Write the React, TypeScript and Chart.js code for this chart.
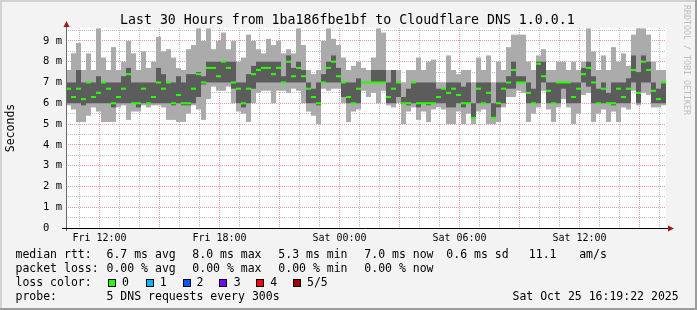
import React, { useEffect, useRef } from "react";
import { Chart, registerables } from "chart.js";

Chart.register(...registerables);

// ---- time axis (hours since Fri 10:19:22, 30 hour window, 15 minute bins) ----
const STEP_HOURS = 0.25;
const SPAN_HOURS = 30;
const FIRST_GRID_OFFSET = 40 / 60 + 38 / 3600; // Fri 11:00
const FIRST_GRID_CLOCK = 11;
const GRID_COUNT = 30;
const xLabelClock = [12, 18, 24, 30, 36];
const xLabelTexts = ["Fri 12:00", "Fri 18:00", "Sat 00:00", "Sat 06:00", "Sat 12:00"];

// ---- round-trip times (ms): smoke envelope + median ----
const rttMax = [
  7.6, 8.4, 8.9, 7.6, 8.4, 7.6, 9.6, 8.2, 7.6, 8.7, 7.6, 8.0, 9.0, 8.4, 7.6, 8.5, 7.7, 8.0, 9.2, 8.5,
  8.6, 8.2, 7.7, 7.6, 8.6, 8.8, 9.6, 9.0, 9.6, 8.6, 9.0, 9.4, 8.6, 9.0, 8.0, 8.2, 9.3, 9.0, 8.6, 8.4,
  9.1, 8.8, 9.0, 8.4, 8.6, 8.4, 9.6, 8.8, 7.6, 7.4, 7.6, 9.0, 9.6, 9.1, 8.8, 8.2, 7.6, 7.8, 8.0, 7.7,
  7.6, 8.2, 9.6, 9.4, 7.6, 7.6, 7.6, 7.0, 7.6, 7.6, 8.2, 7.6, 8.0, 8.1, 7.0, 7.0, 8.3, 7.6, 7.4, 7.6,
  7.6, 7.0, 8.2, 7.6, 8.3, 7.0, 8.0, 7.6, 8.7, 9.3, 9.3, 9.3, 8.0, 7.6, 8.3, 8.6, 7.6, 7.6, 8.0, 8.0,
  7.6, 8.0, 7.6, 8.0, 9.6, 8.5, 7.6, 8.3, 7.6, 8.7, 8.0, 8.4, 7.8, 9.3, 9.6, 9.6, 9.3, 8.0, 7.6, 7.6,
];
const rttQ3 = [
  7.0, 7.0, 7.6, 7.0, 7.0, 7.0, 7.3, 7.0, 7.0, 7.0, 7.0, 7.3, 7.7, 7.0, 7.0, 7.0, 7.0, 7.0, 7.7, 7.4,
  7.0, 7.0, 7.3, 7.0, 7.4, 7.4, 7.5, 7.3, 8.0, 8.0, 8.0, 8.0, 8.0, 8.0, 7.0, 7.0, 7.4, 7.8, 8.0, 8.0,
  8.0, 8.0, 8.0, 7.3, 8.3, 7.7, 8.0, 7.6, 7.0, 6.7, 7.0, 7.4, 8.0, 8.3, 7.7, 7.0, 7.0, 7.0, 7.2, 7.0,
  7.0, 7.6, 7.6, 7.6, 7.0, 7.6, 7.0, 6.3, 6.7, 7.0, 7.0, 7.0, 7.0, 7.0, 6.7, 6.7, 7.0, 7.0, 7.0, 6.8,
  7.0, 6.0, 7.0, 7.0, 7.0, 6.0, 7.0, 7.0, 7.3, 8.0, 7.3, 7.3, 7.0, 6.7, 8.0, 8.0, 7.0, 7.0, 7.0, 7.0,
  7.0, 7.0, 7.0, 7.7, 8.0, 7.3, 6.7, 7.0, 6.5, 7.0, 7.0, 7.0, 7.2, 8.3, 7.5, 8.3, 8.0, 7.0, 6.7, 7.0,
];
const rttMedian = [
  6.7, 6.3, 6.7, 6.2, 7.0, 6.3, 6.5, 7.0, 6.7, 6.0, 6.3, 6.7, 7.4, 6.0, 6.0, 6.7, 6.0, 6.3, 7.0, 6.7,
  7.0, 6.0, 6.4, 6.0, 6.0, 6.7, 7.4, 7.0, 7.7, 7.7, 7.3, 8.0, 7.7, 7.0, 6.7, 6.0, 6.7, 7.4, 7.6, 7.7,
  7.7, 7.4, 7.7, 7.0, 8.0, 7.3, 7.7, 7.3, 6.7, 6.3, 6.0, 7.0, 7.7, 8.0, 7.3, 7.0, 6.3, 6.0, 6.7, 7.0,
  7.0, 7.0, 7.0, 7.0, 6.3, 6.7, 7.0, 6.0, 6.0, 7.0, 6.0, 6.0, 6.0, 6.0, 6.3, 6.7, 6.5, 6.7, 6.4, 6.0,
  6.0, 5.3, 6.7, 6.0, 6.5, 5.3, 6.0, 6.7, 7.0, 7.6, 7.0, 7.0, 6.5, 6.0, 7.9, 7.3, 6.6, 6.0, 7.0, 7.0,
  7.0, 6.3, 6.7, 7.4, 7.7, 7.0, 6.0, 6.7, 6.0, 6.0, 6.7, 6.3, 6.7, 7.6, 6.5, 8.0, 7.6, 6.6, 6.2, 7.0,
];
const rttQ1 = [
  6.0, 6.0, 6.0, 5.9, 6.0, 6.0, 6.0, 6.0, 6.0, 5.8, 6.0, 6.0, 6.0, 6.0, 5.8, 6.0, 6.0, 6.0, 6.0, 6.0,
  6.0, 5.9, 6.0, 5.9, 5.9, 6.0, 6.3, 6.9, 7.0, 7.0, 7.0, 7.0, 7.0, 6.7, 6.0, 5.8, 6.0, 6.7, 7.0, 7.0,
  7.0, 7.0, 7.0, 7.0, 7.0, 7.0, 7.0, 7.0, 6.0, 6.0, 5.9, 7.0, 7.0, 7.0, 7.0, 6.3, 6.0, 6.0, 6.0, 7.0,
  7.0, 7.0, 7.0, 7.0, 6.0, 6.0, 6.3, 6.0, 5.9, 6.0, 5.8, 6.0, 5.9, 6.0, 6.0, 6.0, 5.8, 5.8, 6.0, 5.8,
  6.0, 5.3, 6.0, 6.0, 6.0, 5.3, 5.8, 6.0, 6.7, 6.7, 7.0, 7.0, 6.0, 6.0, 6.0, 7.0, 6.0, 6.0, 6.0, 6.7,
  6.0, 6.0, 6.0, 7.0, 6.8, 6.0, 6.0, 6.0, 6.0, 5.9, 6.0, 6.0, 6.0, 7.0, 6.0, 7.0, 7.0, 6.0, 6.0, 6.0,
];
const rttMin = [
  5.9, 5.7, 5.1, 5.1, 5.4, 5.8, 5.6, 5.1, 5.1, 5.1, 5.8, 5.9, 5.2, 5.6, 5.6, 5.9, 5.8, 5.9, 5.9, 5.8,
  5.2, 5.2, 5.1, 5.1, 5.5, 5.9, 5.7, 5.2, 6.2, 6.8, 6.6, 6.6, 6.8, 6.0, 5.6, 5.5, 5.1, 6.0, 6.5, 6.6,
  6.6, 6.0, 6.6, 6.6, 6.5, 6.7, 6.6, 6.0, 5.6, 5.4, 5.0, 6.7, 6.6, 6.7, 6.7, 6.0, 5.1, 5.6, 5.7, 6.6,
  6.3, 6.5, 6.0, 6.6, 5.9, 5.8, 6.0, 5.0, 5.6, 5.8, 5.2, 5.6, 5.1, 5.7, 5.8, 5.7, 5.0, 5.0, 5.6, 5.0,
  5.5, 5.0, 5.6, 5.7, 5.0, 5.0, 5.1, 5.8, 6.3, 6.3, 6.6, 6.5, 5.1, 5.5, 5.8, 6.6, 5.7, 5.1, 5.8, 6.2,
  5.8, 5.0, 5.5, 6.4, 6.5, 5.1, 5.5, 5.7, 5.1, 5.6, 5.1, 5.8, 5.7, 6.6, 5.9, 6.5, 6.4, 5.8, 5.8, 5.9,
];

// ---- value axis ----
const Y_MAX = 9.62;
const yTickValues = [0, 0.5, 1, 1.5, 2, 2.5, 3, 3.5, 4, 4.5, 5, 5.5, 6, 6.5, 7, 7.5, 8, 8.5, 9, 9.5];
const MEDIAN_HALF = 0.05;

// ---- texts ----
const TITLE = "Last 30 Hours from 1ba186fbe1bf to Cloudflare DNS 1.0.0.1";
const Y_TITLE = "Seconds";
const WATERMARK = "RRDTOOL / TOBI OETIKER";
const rttRow = ["median rtt:", "6.7 ms avg", "8.0 ms max", "5.3 ms min", "7.0 ms now", "0.6 ms sd", "11.1", "am/s"];
const lossRow = ["packet loss:", "0.00 % avg", "0.00 % max", "0.00 % min", "0.00 % now"];
const lossColorLabel = "loss color:";
const lossLabels = ["0", "1", "2", "3", "4", "5/5"];
const lossColors = ["#26ff00", "#00b8ff", "#0059ff", "#7e00ff", "#ff0000", "#a00000"];
const probeRow = ["probe:", "5 DNS requests every 300s"];
const DATE_TEXT = "Sat Oct 25 16:19:22 2025";

// ---- layout (pixels) ----
const W = 697;
const H = 310;
const MONO = '"DejaVu Sans Mono", monospace';
const colX = [15.5, 106.5, 192.3, 278.3, 364.3, 446.3, 528.8, 579.2];
const rowTop = [247, 261, 275, 289];
const lossBoxX = [108, 146, 183, 219, 256, 293];
const lossTextX = [122, 159.8, 196.5, 233.7, 270.2, 307];

const MAJOR = "rgba(225,110,110,0.7)";
const MINOR = "rgba(150,150,150,0.6)";

const binX = (i: number) => (i + 0.5) * STEP_HOURS;

const framePlugin = {
  id: "rrdFrame",
  beforeDraw(chart: any) {
    const { ctx, width, height, chartArea: a } = chart;
    ctx.save();
    ctx.fillStyle = "#f3f3f3";
    ctx.fillRect(0, 0, width, height);
    ctx.fillStyle = "#d2d2d2";
    ctx.fillRect(0, 0, width, 2);
    ctx.fillRect(0, 0, 2, height);
    ctx.fillStyle = "#9c9c9c";
    ctx.fillRect(0, height - 2, width, 2);
    ctx.fillRect(width - 2, 0, 2, height);
    ctx.fillStyle = "#ffffff";
    ctx.fillRect(a.left, a.top, a.right - a.left, a.bottom - a.top);
    ctx.restore();
  },
  afterDraw(chart: any) {
    const { ctx, chartArea: a } = chart;
    ctx.save();
    ctx.lineWidth = 1;
    // y axis
    ctx.strokeStyle = "#6a6a6a";
    ctx.beginPath();
    ctx.moveTo(a.left + 0.5, a.bottom + 3);
    ctx.lineTo(a.left + 0.5, a.top - 4);
    ctx.stroke();
    // x axis
    ctx.strokeStyle = "#000000";
    ctx.beginPath();
    ctx.moveTo(a.left - 4, a.bottom + 0.5);
    ctx.lineTo(a.right + 3, a.bottom + 0.5);
    ctx.stroke();
    // arrows
    ctx.fillStyle = "#a01818";
    ctx.beginPath();
    ctx.moveTo(a.left + 0.5, a.top - 7);
    ctx.lineTo(a.left + 3.5, a.top - 1);
    ctx.lineTo(a.left - 2.5, a.top - 1);
    ctx.closePath();
    ctx.fill();
    ctx.beginPath();
    ctx.moveTo(a.right + 8, a.bottom + 0.5);
    ctx.lineTo(a.right + 2, a.bottom + 3.5);
    ctx.lineTo(a.right + 2, a.bottom - 2.5);
    ctx.closePath();
    ctx.fill();
    ctx.restore();
  },
};

export default function App() {
  const ref = useRef<HTMLCanvasElement | null>(null);

  useEffect(() => {
    if (!ref.current) return;
    const common = {
      grouped: false,
      barPercentage: 1,
      categoryPercentage: 1,
      borderWidth: 0,
      inflateAmount: 0,
    };
    const chart = new Chart(ref.current, {
      type: "bar",
      data: {
        datasets: [
          {
            ...common,
            label: "median rtt",
            order: 0,
            backgroundColor: lossColors[0],
            data: rttMedian.map((m, i) => ({ x: binX(i), y: [m - MEDIAN_HALF, m + MEDIAN_HALF] })),
          },
          {
            ...common,
            label: "inner smoke",
            order: 1,
            backgroundColor: "#5c5c5c",
            data: rttQ1.map((lo, i) => ({ x: binX(i), y: [lo, rttQ3[i]] })),
          },
          {
            ...common,
            label: "outer smoke",
            order: 2,
            backgroundColor: "#ababab",
            data: rttMin.map((lo, i) => ({ x: binX(i), y: [lo, rttMax[i]] })),
          },
        ] as any,
      },
      options: {
        animation: false,
        responsive: false,
        devicePixelRatio: 1,
        events: [],
        layout: { padding: { left: 0, right: 31, top: 28, bottom: 0 } },
        plugins: { legend: { display: false }, tooltip: { enabled: false }, title: { display: false } },
        scales: {
          x: {
            type: "linear",
            min: 0,
            max: SPAN_HOURS,
            offset: false,
            z: 1,
            afterBuildTicks: (s: any) => {
              s.ticks = Array.from({ length: GRID_COUNT }, (_, k) => ({ value: FIRST_GRID_OFFSET + k }));
            },
            afterFit: (s: any) => {
              s.height = 82;
            },
            ticks: {
              autoSkip: false,
              maxRotation: 0,
              minRotation: 0,
              padding: 4,
              color: "#000",
              font: { family: "DejaVu Sans Mono", size: 10 },
              callback: (v: any) => {
                const hour = FIRST_GRID_CLOCK + Math.round(Number(v) - FIRST_GRID_OFFSET);
                const idx = xLabelClock.indexOf(hour);
                return idx >= 0 ? xLabelTexts[idx] : "";
              },
            },
            grid: {
              offset: false,
              drawTicks: false,
              lineWidth: 1,
              color: (c: any) => {
                const v = c.tick ? c.tick.value : 0;
                const hour = FIRST_GRID_CLOCK + Math.round(v - FIRST_GRID_OFFSET);
                return hour % 3 === 0 ? MAJOR : MINOR;
              },
            },
            border: { display: false, dash: [1, 1] },
          },
          y: {
            type: "linear",
            min: 0,
            max: Y_MAX,
            z: 1,
            afterBuildTicks: (s: any) => {
              s.ticks = yTickValues.map((v) => ({ value: v }));
            },
            afterFit: (s: any) => {
              s.width = 66;
            },
            ticks: {
              autoSkip: false,
              padding: 4,
              color: "#000",
              font: { family: "DejaVu Sans Mono", size: 10.5 },
              callback: (v: any) => {
                const n = Number(v);
                if (Math.abs(n - Math.round(n)) > 1e-6) return "";
                return n === 0 ? "0  " : `${n} m`;
              },
            },
            grid: {
              drawTicks: false,
              lineWidth: 1,
              color: (c: any) => {
                const v = c.tick ? c.tick.value : 0;
                return Math.abs(v - Math.round(v)) < 1e-6 ? MAJOR : MINOR;
              },
            },
            border: { display: false, dash: [1, 1] },
            title: {
              display: true,
              text: Y_TITLE,
              color: "#000",
              font: { family: "DejaVu Sans Mono", size: 11.5 },
              padding: { top: 4.6, bottom: 0 },
            },
          },
        },
      } as any,
      plugins: [framePlugin],
    });
    return () => chart.destroy();
  }, []);

  const textStyle = (left: number, top: number, size = 11.5, lh = 14): React.CSSProperties => ({
    position: "absolute",
    left,
    top,
    font: `${size}px/${lh}px ${MONO}`,
    whiteSpace: "pre",
    color: "#000",
  });

  return (
    <div style={{ position: "absolute", left: 0, top: 0, width: W, height: H, overflow: "hidden" }}>
      <canvas ref={ref} width={W} height={H} style={{ display: "block", width: W, height: H }} />
      <div style={textStyle(120, 11.5, 13.25, 16)}>{TITLE}</div>
      <div
        style={{
          position: "absolute",
          left: 682,
          top: 5,
          writingMode: "vertical-rl",
          font: `8.3px/10px ${MONO}`,
          color: "#bdbdbd",
          whiteSpace: "pre",
        }}
      >
        {WATERMARK}
      </div>
      {rttRow.map((t, i) => (
        <div key={"r" + i} style={textStyle(colX[i], rowTop[0])}>{t}</div>
      ))}
      {lossRow.map((t, i) => (
        <div key={"l" + i} style={textStyle(colX[i], rowTop[1])}>{t}</div>
      ))}
      <div style={textStyle(colX[0], rowTop[2])}>{lossColorLabel}</div>
      {lossLabels.map((t, i) => (
        <React.Fragment key={"c" + i}>
          <div
            style={{
              position: "absolute",
              left: lossBoxX[i],
              top: rowTop[2] + 4,
              width: 6,
              height: 6,
              background: lossColors[i],
              border: "1px solid #000",
            }}
          />
          <div style={textStyle(lossTextX[i], rowTop[2])}>{t}</div>
        </React.Fragment>
      ))}
      <div style={textStyle(colX[0], rowTop[3])}>{probeRow[0]}</div>
      <div style={textStyle(colX[1], rowTop[3])}>{probeRow[1]}</div>
      <div style={textStyle(512.5, rowTop[3])}>{DATE_TEXT}</div>
    </div>
  );
}
